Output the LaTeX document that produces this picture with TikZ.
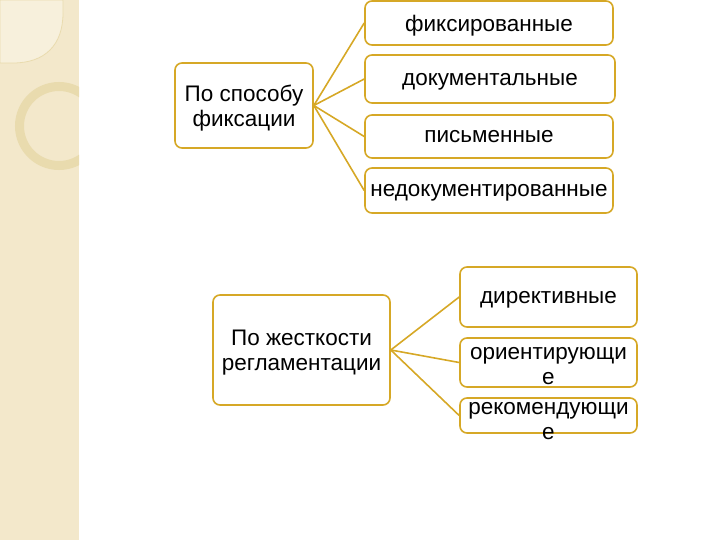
\documentclass[tikz,border=0pt]{standalone}
\usepackage{fontspec}
\setmainfont{Liberation Sans}
\usetikzlibrary{positioning}

\definecolor{gold}{RGB}{214,168,38}
\definecolor{stripbg}{RGB}{243,232,203}
\definecolor{ringc}{RGB}{233,219,174}
\definecolor{cornerc}{RGB}{247,240,220}

\tikzset{
  box/.style={draw=gold, line width=1.6pt, rounded corners=7pt, fill=white,
    align=center, inner sep=2pt, text depth=0pt, font=\fontsize{22.5}{25}\selectfont},
  boxtext/.style={align=center, inner sep=0pt, font=\fontsize{22.5}{25}\selectfont},
  link/.style={draw=gold, line width=1.6pt},
}

\begin{document}
\begin{tikzpicture}[x=1pt,y=-1pt]
\useasboundingbox (0,0) rectangle (720,540);

% left strip
\fill[stripbg] (0,0) rectangle (79,540);
\begin{scope}
\clip (0,0) rectangle (79,540);
\draw[ringc, line width=9pt] (59,126) circle[radius=39.5];
\end{scope}
\filldraw[fill=cornerc, draw=ringc, line width=0.8pt]
  (0,0) -- (0,63) -- (13,63) .. controls (45,63) and (63,45) .. (63,13) -- (63,0) -- cycle;

% by way of recording
\node[box, minimum width=138pt, minimum height=85pt](spos) at (244,105.5){По способу\\фиксации};
\node[box, minimum width=248pt, minimum height=44pt](fix) at (489,23){фиксированные};
\node[box, minimum width=250pt, minimum height=48pt](doc) at (490,79){документальные};
\node[box, minimum width=248pt, minimum height=43pt](pis) at (489,136.5){письменные};
\node[box, minimum width=248pt, minimum height=45pt](nedoc) at (489,190.5){недокументированные};

% by strictness
\node[box, minimum width=177pt, minimum height=110pt](zhest) at (301.5,350){По жесткости\\регламентации};
\node[box, minimum width=177pt, minimum height=60pt](dir) at (548.5,297){директивные};
\node[box, minimum width=177pt, minimum height=49pt](orient) at (548.5,362.5){};
\node[box, minimum width=177pt, minimum height=35pt](rekom) at (548.5,415.5){};

\path
(spos.east) edge[link] (fix.west)
(spos.east) edge[link] (doc.west)
(spos.east) edge[link] (pis.west)
(spos.east) edge[link] (nedoc.west)
(zhest.east) edge[link] (dir.west)
(zhest.east) edge[link] (orient.west)
(zhest.east) edge[link] (rekom.west);

\node[boxtext](orienttext) at (548.5,366){ориентирующи\\е};
\node[boxtext](rekomtext) at (548.5,421){рекомендующи\\е};
\end{tikzpicture}
\end{document}
